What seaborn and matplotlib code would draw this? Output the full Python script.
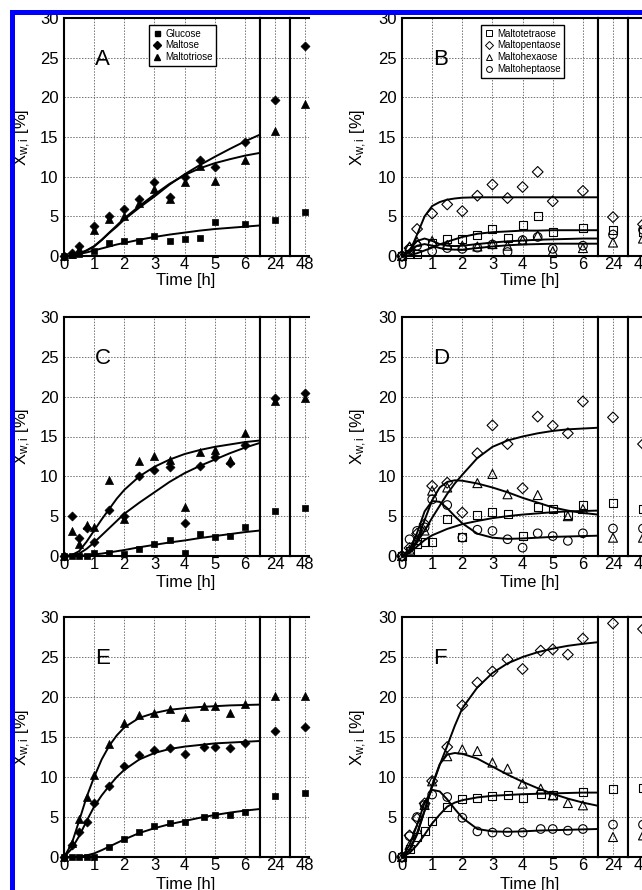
import numpy as np
import pandas as pd
import matplotlib
matplotlib.use("Agg")
import matplotlib.pyplot as plt
import seaborn as sns
from matplotlib.lines import Line2D
from matplotlib.patches import Rectangle

sns.set_theme(style="white")
plt.rcParams["font.family"] = ["Liberation Sans", "DejaVu Sans"]
plt.rcParams.update({
    "mathtext.fontset": "custom",
    "mathtext.rm": "Liberation Sans",
    "mathtext.it": "Liberation Sans:italic",
    "axes.edgecolor": "black",
    "xtick.color": "black",
    "ytick.color": "black",
    "text.color": "black",
    "axes.labelcolor": "black",
})

# ---------------------------------------------------------------- data
SMALL = ["Glucose", "Maltose", "Maltotriose"]
LARGE = ["Maltotetraose", "Maltopentaose", "Maltohexaose", "Maltoheptaose"]
LATE_T = [24, 48]
T_FIT = [0, 0.25, 0.5, 0.75, 1, 1.25, 1.5, 1.75, 2, 2.5, 3, 3.5, 4, 4.5, 5, 5.5, 6, 6.5]
nan = np.nan

# Panel A
A_T = [0, 0.25, 0.5, 1, 1.5, 2, 2.5, 3, 3.5, 4, 4.5, 5, 6]
A_GLC = [0, 0.1, 0.2, 0.6, 1.6, 1.9, 1.9, 2.5, 1.95, 2.1, 2.3, 4.3, 4.05]
A_G2 = [0, 0.4, 1.3, 3.8, 5.0, 5.9, 7.2, 9.3, 7.5, 10.0, 12.1, 11.25, 14.35]
A_G3 = [0, 0.3, 0.9, 3.3, 4.7, 5.0, 6.7, 8.4, 7.2, 9.3, 11.4, 9.4, 12.1]
A_GLC_LATE = [4.6, 5.5]
A_G2_LATE = [19.7, 26.5]
A_G3_LATE = [15.8, 19.1]
A_GLC_FIT = [0, 0.05, 0.25, 0.45, 0.7, 0.95, 1.2, 1.45, 1.65, 2.05, 2.4, 2.7, 2.95, 3.2, 3.4, 3.55, 3.7, 3.85]
A_G2_FIT = [0, 0.05, 0.3, 0.7, 1.2, 2.0, 2.9, 3.7, 4.6, 6.1, 7.5, 9.0, 10.3, 11.45, 12.5, 13.5, 14.45, 15.3]
A_G3_FIT = [0, 0.05, 0.3, 0.7, 1.25, 2.05, 2.95, 3.85, 4.75, 6.3, 7.75, 9.1, 10.2, 11.05, 11.7, 12.2, 12.65, 13.0]

# Panel B
B_T = [0, 0.25, 0.5, 1, 1.5, 2, 2.5, 3, 3.5, 4, 4.5, 5, 6]
B_G4 = [0, 0.3, 0.3, 1.6, 2.2, 2.1, 2.6, 3.4, 2.3, 3.85, 5.1, 3.0, 3.55]
B_G5 = [0, 1.0, 3.4, 5.35, 6.5, 5.65, 7.6, 9.0, 7.3, 8.7, 10.6, 6.9, 8.2]
B_G6 = [0, 1.2, 1.8, 1.9, 1.4, 1.3, 1.2, 1.5, 1.3, 2.0, 2.6, 0.6, 1.0]
B_G7 = [0, 0.8, 1.3, 0.6, 1.0, 0.9, 1.05, 1.45, 0.5, 2.0, 2.4, 0.9, 1.3]
B_G4_LATE = [3.3, 3.0]
B_G5_LATE = [4.9, 4.0]
B_G6_LATE = [1.7, 2.2]
B_G7_LATE = [2.7, 3.3]
B_G4_FIT = [0, 0.1, 0.35, 0.7, 1.05, 1.45, 1.8, 2.1, 2.4, 2.8, 3.0, 3.1, 3.2, 3.2, 3.25, 3.25, 3.25, 3.25]
B_G5_FIT = [0, 0.5, 2.7, 5.0, 6.3, 6.8, 7.1, 7.25, 7.35, 7.4, 7.4, 7.4, 7.4, 7.4, 7.4, 7.4, 7.4, 7.4]
B_G6_FIT = [0, 0.8, 1.9, 2.2, 1.9, 1.5, 1.3, 1.25, 1.3, 1.5, 1.7, 1.85, 1.95, 2.05, 2.1, 2.15, 2.2, 2.2]
B_G7_FIT = [0, 0.6, 1.3, 1.5, 1.3, 1.0, 0.85, 0.8, 0.8, 1.0, 1.2, 1.35, 1.45, 1.5, 1.55, 1.55, 1.55, 1.55]

# Panel C
C_T = [0, 0.25, 0.5, 0.75, 1, 1.5, 2, 2.5, 3, 3.5, 4, 4.5, 5, 5.5, 6]
C_GLC = [0, 0, 0, 0, 0.35, 0.35, 0.3, 0.85, 1.5, 2.0, 0.35, 2.75, 2.35, 2.45, 3.7]
C_G2 = [0, 5.05, 2.2, 3.5, 1.8, 5.8, 5.0, 10.1, 10.8, 11.2, 4.2, 11.35, 12.4, 11.7, 13.9]
C_G3 = [0, 3.2, 1.5, 3.9, 3.6, 9.6, 4.7, 11.9, 12.6, 12.1, 6.1, 13.0, 13.3, 12.0, 15.5]
C_GLC_LATE = [5.6, 6.0]
C_G2_LATE = [19.8, 20.5]
C_G3_LATE = [19.5, 19.8]
C_GLC_FIT = [0, 0.0, 0.03, 0.1, 0.2, 0.3, 0.45, 0.6, 0.75, 1.1, 1.4, 1.7, 1.95, 2.25, 2.5, 2.75, 3.0, 3.2]
C_G2_FIT = [0, 0.05, 0.3, 0.9, 1.7, 2.6, 3.5, 4.4, 5.3, 6.7, 8.0, 9.3, 10.4, 11.3, 12.1, 12.9, 13.6, 14.2]
C_G3_FIT = [0, 0.1, 0.6, 1.8, 3.2, 4.6, 5.9, 7.2, 8.3, 10.0, 11.2, 12.1, 12.8, 13.3, 13.7, 14.0, 14.3, 14.5]

# Panel D
D_T = [0, 0.25, 0.5, 0.75, 1, 1.5, 2, 2.5, 3, 3.5, 4, 4.5, 5, 5.5, 6]
D_G4 = [0, 0.6, 1.5, 1.8, 1.7, 4.6, 2.4, 5.1, 5.55, 5.25, 2.5, 6.2, 5.95, 5.2, 6.4]
D_G5 = [0, 1.0, 2.8, 4.0, 8.8, 9.2, 5.45, 12.9, 16.4, 14.05, 8.5, 17.5, 16.35, 15.4, 19.4]
D_G6 = [0, 0.8, 2.0, 3.2, 8.2, 8.6, nan, 9.15, 10.3, 7.75, nan, 7.65, nan, 5.0, 5.9]
D_G7 = [0, 2.1, 3.15, 3.6, 7.1, 6.4, 2.3, 3.3, 3.15, 2.1, 1.05, 2.85, 2.5, 1.9, 2.85]
D_G4_LATE = [6.7, 5.9]
D_G5_LATE = [17.4, 14.05]
D_G6_LATE = [2.3, 2.3]
D_G7_LATE = [3.45, 3.45]
D_G4_FIT = [0, 0.4, 1.2, 2.0, 2.6, 3.0, 3.4, 3.7, 4.0, 4.4, 4.75, 5.0, 5.2, 5.35, 5.5, 5.6, 5.65, 5.7]
D_G5_FIT = [0, 0.5, 1.7, 3.2, 4.8, 6.3, 7.8, 9.1, 10.2, 12.3, 13.7, 14.5, 15.0, 15.4, 15.7, 15.9, 16.0, 16.1]
D_G6_FIT = [0, 0.5, 2.0, 4.5, 7.0, 8.6, 9.3, 9.5, 9.45, 9.1, 8.6, 8.0, 7.3, 6.7, 6.1, 5.7, 5.4, 5.2]
D_G7_FIT = [0, 0.8, 2.9, 5.6, 6.9, 6.8, 6.0, 5.0, 4.1, 2.8, 2.3, 2.15, 2.2, 2.3, 2.4, 2.45, 2.5, 2.55]

# Panel E
E_T = [0, 0.25, 0.5, 0.75, 1, 1.5, 2, 2.5, 3, 3.5, 4, 4.65, 5, 5.5, 6]
E_GLC = [0, 0, 0, 0, 0.05, 1.3, 2.3, 3.1, 3.85, 4.25, 4.4, 5.0, 5.3, 5.2, 5.6]
E_G2 = [0, 1.45, 3.1, 4.4, 6.75, 8.85, 11.4, 12.75, 13.4, 13.6, 12.9, 13.7, 13.7, 13.6, 14.3]
E_G3 = [0, 1.7, 4.8, 7.5, 10.2, 14.1, 16.8, 17.8, 18.05, 18.5, 17.5, 18.9, 18.9, 18.05, 19.15]
E_GLC_LATE = [7.6, 8.0]
E_G2_LATE = [15.7, 16.2]
E_G3_LATE = [20.1, 20.1]
E_GLC_FIT = [0, 0.0, 0.05, 0.2, 0.45, 0.85, 1.3, 1.75, 2.2, 3.0, 3.6, 4.1, 4.5, 4.9, 5.25, 5.55, 5.8, 6.0]
E_G2_FIT = [0, 1.0, 2.6, 4.5, 6.3, 7.7, 8.9, 10.0, 10.9, 12.2, 13.0, 13.5, 13.8, 14.0, 14.2, 14.3, 14.4, 14.5]
E_G3_FIT = [0, 1.6, 4.5, 7.5, 10.0, 12.2, 13.9, 15.2, 16.2, 17.4, 18.0, 18.4, 18.6, 18.75, 18.85, 18.95, 19.0, 19.05]

# Panel F
F_T = [0, 0.25, 0.5, 0.75, 1, 1.5, 2, 2.5, 3, 3.5, 4, 4.6, 5, 5.5, 6]
F_G4 = [0, 1.0, 2.5, 3.2, 4.45, 6.25, 7.2, 7.4, 7.6, 7.8, 7.4, 7.9, 7.8, nan, 8.1]
F_G5 = [0, 2.7, 4.8, 6.7, 9.5, 13.75, 18.95, 21.8, 23.2, 24.7, 23.5, 25.8, 25.95, 25.3, 27.3]
F_G6 = [0, 1.5, 3.5, 6.5, 9.46, 12.6, 13.46, 13.25, 11.8, 11.04, 9.17, 8.54, 7.7, 6.75, 6.46]
F_G7 = [0, 2.6, 5.0, 6.5, 7.8, 7.5, 4.9, 3.2, 3.05, 3.1, 3.05, 3.5, 3.5, 3.3, 3.5]
F_G4_LATE = [8.55, 8.6]
F_G5_LATE = [29.2, 28.5]
F_G6_LATE = [2.5, 2.7]
F_G7_LATE = [4.05, 4.05]
F_G4_FIT = [0, 0.5, 1.5, 2.8, 4.2, 5.3, 6.3, 6.8, 7.1, 7.45, 7.65, 7.75, 7.85, 7.9, 7.95, 8.0, 8.05, 8.05]
F_G5_FIT = [0, 0.9, 3.0, 5.8, 8.8, 11.5, 13.9, 16.4, 18.6, 21.2, 23.0, 24.2, 25.0, 25.6, 26.05, 26.4, 26.65, 26.85]
F_G6_FIT = [0, 0.8, 2.8, 5.8, 9.0, 11.6, 12.8, 13.0, 12.9, 12.3, 11.3, 10.3, 9.4, 8.6, 7.9, 7.3, 6.8, 6.4]
F_G7_FIT = [0, 1.5, 4.0, 6.8, 8.4, 8.2, 7.2, 6.0, 4.9, 3.5, 3.2, 3.15, 3.2, 3.3, 3.35, 3.4, 3.45, 3.5]

# ---------------------------------------------------------------- styles
FILLED = {"Glucose": ("s", 22), "Maltose": ("D", 21), "Maltotriose": ("^", 34)}
OPEN = {"Maltotetraose": ("s", 33), "Maltopentaose": ("D", 30),
        "Maltohexaose": ("^", 42), "Maltoheptaose": ("o", 38)}

W, H = 642, 890
fig = plt.figure(figsize=(W / 100, H / 100), dpi=100)
fig.patch.set_facecolor("white")


def fbox(x0, y0, w, h):
    return [x0 / W, 1 - (y0 + h) / H, w / W, h / H]


def style_axes(ax, xlim, xticks, xlabels, ylabels_on):
    ax.set_xlim(*xlim)
    ax.set_ylim(0, 30)
    ax.set_xticks(xticks)
    ax.set_xticklabels(xlabels)
    ax.set_yticks(range(0, 31, 5))
    if not ylabels_on:
        ax.set_yticklabels([])
    ax.grid(True, linestyle=(0, (1.5, 1.5)), color="0.45", linewidth=0.7)
    ax.set_axisbelow(True)
    ax.tick_params(axis="x", direction="in", length=3, width=0.8,
                   labelsize=12, pad=0.8)
    ax.tick_params(axis="y", direction="in", length=3 if ylabels_on else 0,
                   width=0.8, labelsize=12, pad=4)
    for sp in ax.spines.values():
        sp.set_linewidth(1.5)
        sp.set_color("black")
    ax.set_xlabel("")
    ax.set_ylabel("")


def draw_panel(x0, y0, h, w48, letter, t_obs, series, late, fits, marks, open_marks):
    ax = fig.add_axes(fbox(x0, y0, 196, h))
    a24 = fig.add_axes(fbox(x0 + 196, y0, 30, h))
    a48 = fig.add_axes(fbox(x0 + 226, y0, w48, h))
    for name, vals in fits.items():
        sns.lineplot(x=T_FIT, y=vals, ax=ax, color="black", linewidth=1.4,
                     estimator=None, sort=False, zorder=3)
    for name, vals in series.items():
        m, s = marks[name]
        kw = dict(marker=m, s=s, clip_on=False, zorder=4)
        if open_marks:
            kw.update(facecolors="none", edgecolor="black", linewidth=0.8)
        else:
            kw.update(color="black", edgecolor="black", linewidth=0.5)
        sns.scatterplot(x=t_obs, y=vals, ax=ax, **kw)
        sns.scatterplot(x=[LATE_T[0]], y=[late[name][0]], ax=a24, **kw)
        sns.scatterplot(x=[LATE_T[1]], y=[late[name][1]], ax=a48, **kw)
    style_axes(ax, (0, 6.5), range(0, 7), [str(i) for i in range(7)], True)
    style_axes(a24, (23.5, 24.5), [24], ["24"], False)
    style_axes(a48, (47.5, 47.5 + w48 / 30), [48], ["48"], False)
    if w48 < 30:
        a48.spines["right"].set_visible(False)
    ax.text(1.03, 24.8, letter, fontsize=16, ha="left", va="center")
    return ax


LEFT_X, RIGHT_X = 64, 402
ROWS = [(18, 238), (317, 239), (617, 240)]
XLAB_Y = [280, 583, 885]

small_panels = [
    ("A", A_T, [A_GLC, A_G2, A_G3], [A_GLC_LATE, A_G2_LATE, A_G3_LATE], [A_GLC_FIT, A_G2_FIT, A_G3_FIT]),
    ("C", C_T, [C_GLC, C_G2, C_G3], [C_GLC_LATE, C_G2_LATE, C_G3_LATE], [C_GLC_FIT, C_G2_FIT, C_G3_FIT]),
    ("E", E_T, [E_GLC, E_G2, E_G3], [E_GLC_LATE, E_G2_LATE, E_G3_LATE], [E_GLC_FIT, E_G2_FIT, E_G3_FIT]),
]
large_panels = [
    ("B", B_T, [B_G4, B_G5, B_G6, B_G7], [B_G4_LATE, B_G5_LATE, B_G6_LATE, B_G7_LATE], [B_G4_FIT, B_G5_FIT, B_G6_FIT, B_G7_FIT]),
    ("D", D_T, [D_G4, D_G5, D_G6, D_G7], [D_G4_LATE, D_G5_LATE, D_G6_LATE, D_G7_LATE], [D_G4_FIT, D_G5_FIT, D_G6_FIT, D_G7_FIT]),
    ("F", F_T, [F_G4, F_G5, F_G6, F_G7], [F_G4_LATE, F_G5_LATE, F_G6_LATE, F_G7_LATE], [F_G4_FIT, F_G5_FIT, F_G6_FIT, F_G7_FIT]),
]

ylabel = r"X$_{\mathrm{w,i}}$ [%]"

for r, ((y0, h), sp, lp) in enumerate(zip(ROWS, small_panels, large_panels)):
    letter, t, obs, late, fit = sp
    axl = draw_panel(LEFT_X, y0, h, 19, letter, t, dict(zip(SMALL, obs)),
                     dict(zip(SMALL, late)), dict(zip(SMALL, fit)), FILLED, False)
    letter, t, obs, late, fit = lp
    axr = draw_panel(RIGHT_X, y0, h, 30, letter, t, dict(zip(LARGE, obs)),
                     dict(zip(LARGE, late)), dict(zip(LARGE, fit)), OPEN, True)
    yc = 1 - (y0 + h / 2) / H
    fig.text(23 / W, yc, ylabel, rotation=90, ha="center", va="center", fontsize=12)
    fig.text(359 / W, yc, ylabel, rotation=90, ha="center", va="center", fontsize=12)
    fig.text((LEFT_X + 122) / W, 1 - XLAB_Y[r] / H, "Time [h]", ha="center", va="center", fontsize=12)
    fig.text((RIGHT_X + 128) / W, 1 - XLAB_Y[r] / H, "Time [h]", ha="center", va="center", fontsize=12)
    if r == 0:
        hs = [Line2D([], [], marker=FILLED[n][0], color="black", linestyle="none",
                     markersize=3.6 if FILLED[n][0] != "^" else 4.2) for n in SMALL]
        axl.legend(hs, SMALL, loc="upper left", bbox_to_anchor=(0.435, 0.97),
                   fontsize=7, frameon=True, fancybox=False, edgecolor="black",
                   borderpad=0.35, labelspacing=0.2, handlelength=0.9,
                   handletextpad=0.4, borderaxespad=0, framealpha=1)
        hs = [Line2D([], [], marker=OPEN[n][0], color="black", markerfacecolor="none",
                     linestyle="none", markeredgewidth=0.7,
                     markersize=4.2 if OPEN[n][0] != "D" else 3.6) for n in LARGE]
        leg = axr.legend(hs, LARGE, loc="upper left", bbox_to_anchor=(0.405, 0.97),
                         fontsize=7, frameon=True, fancybox=False, edgecolor="black",
                         borderpad=0.35, labelspacing=0.2, handlelength=0.9,
                         handletextpad=0.4, borderaxespad=0, framealpha=1)

# white margin and blue frame lines along the top and left edges
for rect, col in [((0, 0, 10, H), "white"), ((0, 0, W, 10), "white"),
                  ((10, 10, 5, H - 10), "#0000ff"), ((10, 10, W - 10, 5), "#0000ff")]:
    x, y, w, h = rect
    fig.add_artist(Rectangle((x / W, 1 - (y + h) / H), w / W, h / H,
                             transform=fig.transFigure, facecolor=col,
                             edgecolor="none", zorder=100))

fig.savefig("out.png", dpi=100)
